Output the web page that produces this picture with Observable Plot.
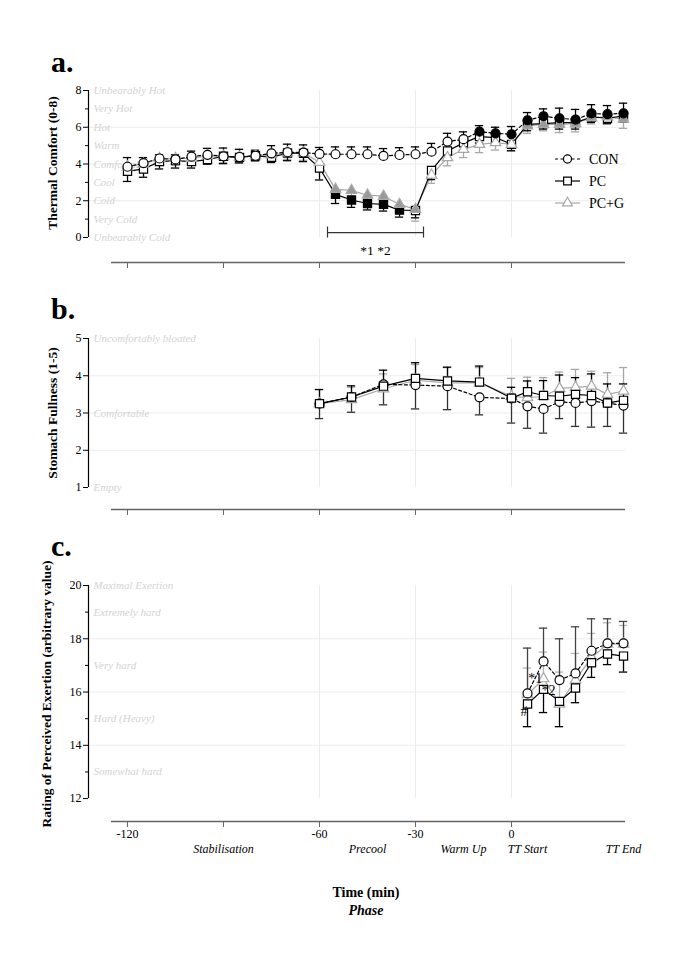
<!DOCTYPE html>
<html><head><meta charset="utf-8">
<script src="https://cdn.jsdelivr.net/npm/d3@7"></script>
<script src="https://cdn.jsdelivr.net/npm/@observablehq/plot@0.6"></script>
<style>
html,body{margin:0;padding:0;background:#fff}
#root{position:relative;width:685px;height:968px;overflow:hidden;font-family:"Liberation Serif","Times New Roman",serif}
#root > svg{position:absolute;left:0}
#root svg text{font-family:"Liberation Serif","Times New Roman",serif}
</style></head><body><div id="root"></div>
<script>
// ---------------- DATA ----------------
// x axis
const xTicks = [-120, -90, -60, -30, 0];
const xTickLabels = ["-120", "", "-60", "-30", "0"];
const phaseTimes = [-90, -45, -15, 5, 35];
const phaseNames = ["Stabilisation", "Precool", "Warm Up", "TT Start", "TT End"];

// Panel a: Thermal comfort (0-8)
const timesA = [-120,-115,-110,-105,-100,-95,-90,-85,-80,-75,-70,-65,-60,-55,-50,-45,-40,-35,-30,-25,-20,-15,-10,-5,0,5,10,15,20,25,30,35];
const conA  = [3.85,4.05,4.30,4.25,4.40,4.50,4.42,4.38,4.45,4.58,4.64,4.62,4.55,4.53,4.53,4.53,4.44,4.49,4.53,4.67,5.22,5.35,5.76,5.67,5.62,6.38,6.60,6.49,6.42,6.75,6.71,6.76];
const pcA   = [3.60,3.73,4.13,4.18,4.13,4.24,4.42,4.36,4.45,4.36,4.60,4.58,3.78,2.35,2.04,1.85,1.80,1.49,1.47,3.65,4.71,5.15,5.49,5.44,5.07,6.16,6.20,6.25,6.25,6.56,6.49,6.62];
const pcgA  = [3.85,4.00,4.30,4.30,4.30,4.45,4.42,4.36,4.45,4.50,4.60,4.60,4.09,2.62,2.56,2.31,2.25,1.80,1.53,3.40,4.35,4.80,5.07,5.16,5.07,6.07,6.16,6.16,6.20,6.53,6.56,6.44];
const conSdA = [0.50,0.30,0.20,0.25,0.30,0.35,0.45,0.42,0.30,0.42,0.44,0.42,0.35,0.40,0.40,0.40,0.40,0.40,0.40,0.45,0.45,0.40,0.33,0.33,0.42,0.42,0.40,0.55,0.55,0.48,0.47,0.55];
const pcSdA  = [0.55,0.45,0.40,0.40,0.35,0.25,0.40,0.30,0.27,0.28,0.42,0.45,0.65,0.50,0.40,0.35,0.36,0.38,0.40,0.50,0.45,0.40,0.35,0.30,0.35,0.35,0.30,0.35,0.35,0.30,0.30,0.35];
const pcgSdA = [0.45,0.40,0.35,0.35,0.30,0.30,0.35,0.30,0.30,0.30,0.35,0.40,0.45,0.40,0.35,0.30,0.30,0.35,0.64,0.45,0.45,0.45,0.45,0.40,0.35,0.40,0.35,0.45,0.45,0.35,0.35,0.50];
const sigConA = [-10,-5,0,5,10,15,20,25,30,35];
const sigPcA  = [-55,-50,-45,-40,-35];
const sigPcgA = [-55,-50,-45,-40,-35,-30,5,10,15,20,25,30,35];
const catValsA = [8,7,6,5,4,3,2,1,0];
const catNamesA = ["Unbearably Hot","Very Hot","Hot","Warm","Comfortable","Cool","Cold","Very Cold","Unbearably Cold"];
const bracketA = {from: -57.5, to: -27.5, level: 0.27, label: "*1 *2", labelLevel: -0.72};

// Panel b: Stomach fullness (1-5)
const timesB = [-60,-50,-40,-30,-20,-10,0,5,10,15,20,25,30,35];
const conB  = [3.25,3.43,3.77,3.75,3.72,3.42,3.39,3.18,3.11,3.30,3.27,3.32,3.27,3.20];
const pcB   = [3.25,3.43,3.72,3.93,3.86,3.83,3.40,3.57,3.47,3.45,3.50,3.47,3.27,3.34];
const pcgB  = [3.25,3.36,3.65,3.88,3.81,3.81,3.45,3.41,3.45,3.66,3.69,3.72,3.50,3.59];
const conSdB = [0.40,0.41,0.55,0.64,0.63,0.47,0.66,0.59,0.65,0.45,0.63,0.70,0.63,0.74];
const pcSdB  = [0.38,0.30,0.43,0.42,0.37,0.43,0.29,0.29,0.40,0.57,0.45,0.58,0.51,0.44];
const pcgSdB = [0.38,0.33,0.40,0.42,0.41,0.41,0.48,0.55,0.50,0.44,0.48,0.40,0.58,0.63];
const catValsB = [5,3,1];
const catNamesB = ["Uncomfortably bloated","Comfortable","Empty"];

// Panel c: RPE
const timesC = [5,10,15,20,25,30,35];
const conC  = [15.95,17.15,16.45,16.70,17.55,17.83,17.83];
const pcC   = [15.55,16.10,15.65,16.15,17.10,17.43,17.35];
const pcgC  = [15.90,16.50,15.55,16.45,17.30,17.80,17.80];
const conSdC = [1.70,1.25,1.55,1.75,1.20,0.92,0.82];
const pcSdC  = [0.85,0.87,0.95,0.55,0.55,0.40,0.60];
const pcgSdC = [1.00,1.00,1.20,1.00,0.90,0.80,0.70];
const catValsC = [20,19,17,15,13];
const catNamesC = ["Maximal Exertion","Extremely hard","Very hard","Hard (Heavy)","Somewhat hard"];
const annotC = [{t: 5.2, v: 16.5, label: "*1"}, {t: 9.4, v: 16.07, label: "*2"}, {t: 2.8, v: 15.27, label: "#"}];

// ---------------- CHART ----------------
const FONT = '"Liberation Serif", "Times New Roman", serif';
const X0 = -132.19, X1 = 35.62, AX0 = -125;
const GRIDC = "#ececec", CATC = "#d3d3d3", GRAY = "#a8a8a8";
const root = document.getElementById("root");

function rows(t, v, sd, sig) {
  return t.map((tt, i) => ({t: tt, v: v[i], sd: sd[i], sig: sig.includes(tt)}));
}

function seriesMarks(s) {
  return {
    line: Plot.line(s.data, {x: "t", y: "v", stroke: s.color, strokeWidth: 1.2, strokeDasharray: s.dash}),
    bars: [
      Plot.ruleX(s.data, {x: "t", y1: "v", y2: d => d.v + s.dir * d.sd, stroke: s.barColor || s.color, strokeWidth: 1.3}),
      Plot.ruleY(s.data, {y: d => d.v + s.dir * d.sd, x1: d => d.t - 1.3, x2: d => d.t + 1.3, stroke: s.barColor || s.color, strokeWidth: 1.3})
    ],
    dots: Plot.dot(s.data, {x: "t", y: "v", symbol: s.symbol, r: s.r, stroke: s.color, strokeWidth: 1.2,
      fill: d => d.sig ? s.sigFill : "white"})
  };
}

function panel(cfg) {
  const {top, height, marginTop, marginBottom, yMin, yLo, yHi, majors, minors, grid, catVals, catNames, series, dotOrder} = cfg;
  const sm = series.map(seriesMarks);
  const marks = [
    Plot.ruleY(grid, {y: d => d, x1: X0, x2: X1, stroke: GRIDC}),
    Plot.ruleX([-60, -30, 0], {x: d => d, y1: yLo, y2: yHi, stroke: GRIDC}),
    Plot.text(catVals, {x: X0, y: d => d, dx: 5, text: (d, i) => catNames[i], textAnchor: "start",
      fill: CATC, fontStyle: "italic", fontSize: 11, fontFamily: FONT}),
    Plot.ruleX([X0], {x: d => d, y1: yLo, y2: yHi, stroke: "black", strokeWidth: 1.2}),
    Plot.ruleY([yMin], {y: d => d, x1: AX0, x2: X1, stroke: "#666", strokeWidth: 1.3}),
    Plot.axisX(xTicks, {anchor: "bottom", tickSize: 6, tickFormat: () => "", stroke: "#666", label: null}),
    Plot.axisY(majors, {anchor: "left", tickSize: 5, tickPadding: 2, label: null, fontSize: 12, fontFamily: FONT}),
    Plot.axisY(minors, {anchor: "left", tickSize: 3, tickFormat: () => "", label: null}),
    ...sm.map(m => m.line),
    ...sm.flatMap(m => m.bars),
    ...dotOrder.map(i => sm[i].dots),
    ...(cfg.extra || [])
  ];
  const svg = Plot.plot({
    width: 685, height, marginLeft: 88, marginRight: 60, marginTop, marginBottom,
    x: {domain: [X0, X1]}, y: {domain: [yMin, yHi]},
    style: {fontFamily: FONT, fontSize: "12px", color: "black", background: "transparent", overflow: "visible"},
    marks
  });
  svg.style.top = top + "px";
  root.appendChild(svg);
}

// Panel a
panel({
  top: 80, height: 194, marginTop: 10, marginBottom: 12, yMin: -1.36, yLo: 0, yHi: 8,
  majors: [0,2,4,6,8], minors: [1,3,5,7], grid: [2,4,6], catVals: catValsA, catNames: catNamesA,
  series: [
    {data: rows(timesA, pcgA, pcgSdA, sigPcgA), color: GRAY, symbol: "triangle", r: 3.9, dir: -1, sigFill: "#9a9a9a"},
    {data: rows(timesA, pcA, pcSdA, sigPcA), color: "black", symbol: "square", r: 4.6, dir: -1, sigFill: "black"},
    {data: rows(timesA, conA, conSdA, sigConA), color: "black", symbol: "circle", r: 4.5, dir: 1, sigFill: "black", dash: "3,2.5"}
  ],
  dotOrder: [1, 0, 2],
  extra: [
    Plot.ruleY([bracketA], {y: "level", x1: "from", x2: "to", stroke: "#333", strokeWidth: 1.2}),
    Plot.ruleX([bracketA.from, bracketA.to], {x: d => d, y1: bracketA.level - 0.3, y2: bracketA.level + 0.3, stroke: "#333", strokeWidth: 1.2}),
    Plot.text([bracketA], {x: d => (d.from + d.to) / 2, y: "labelLevel", text: "label", fontSize: 13.5, fontFamily: FONT})
  ]
});

// Panel b
panel({
  top: 325, height: 196, marginTop: 13, marginBottom: 12, yMin: 0.41, yLo: 1, yHi: 5,
  majors: [1,2,3,4,5], minors: [], grid: [2,3,4], catVals: catValsB, catNames: catNamesB,
  series: [
    {data: rows(timesB, pcgB, pcgSdB, []), color: GRAY, symbol: "triangle", r: 3.9, dir: 1, sigFill: GRAY},
    {data: rows(timesB, conB, conSdB, []), color: "black", symbol: "circle", r: 4.5, dir: -1, sigFill: "black", dash: "3,2.5", barColor: "#333"},
    {data: rows(timesB, pcB, pcSdB, []), color: "black", symbol: "square", r: 4.6, dir: 1, sigFill: "black"}
  ],
  dotOrder: [0, 1, 2]
});

// Panel c
panel({
  top: 570, height: 301, marginTop: 15, marginBottom: 50, yMin: 11.14, yLo: 12, yHi: 20,
  majors: [12,14,16,18,20], minors: [13,15,17,19], grid: [14,16,18], catVals: catValsC, catNames: catNamesC,
  series: [
    {data: rows(timesC, pcgC, pcgSdC, []), color: GRAY, symbol: "triangle", r: 3.9, dir: 1, sigFill: GRAY, barColor: "#b5b5b5"},
    {data: rows(timesC, pcC, pcSdC, []), color: "black", symbol: "square", r: 4.6, dir: -1, sigFill: "black"},
    {data: rows(timesC, conC, conSdC, []), color: "black", symbol: "circle", r: 4.5, dir: 1, sigFill: "black", dash: "3,2.5", barColor: "#444"}
  ],
  dotOrder: [0, 1, 2],
  extra: [
    Plot.text(annotC, {x: "t", y: "v", text: "label", textAnchor: "start", fontSize: 14, fontFamily: FONT}),
    Plot.text(xTicks, {x: d => d, frameAnchor: "bottom", dy: 16, text: (d, i) => xTickLabels[i], fontSize: 12, fontFamily: FONT}),
    Plot.text(phaseTimes, {x: d => d, frameAnchor: "bottom", dy: 31, text: (d, i) => phaseNames[i], fontSize: 12, fontStyle: "italic", fontFamily: FONT})
  ]
});

// ---------------- OVERLAY TEXT / LEGEND ----------------
const ov = d3.select(root).append("svg").attr("width", 685).attr("height", 968)
  .style("top", "0px").style("pointer-events", "none").style("font-family", FONT);

[["a.", 72], ["b.", 319], ["c.", 556]].forEach(([t, y]) =>
  ov.append("text").attr("x", 51).attr("y", y).attr("font-size", 30).attr("font-weight", "bold").text(t));

[["Thermal Comfort (0-8)", 52, 163], ["Stomach Fullness (1-5)", 52, 413], ["Rating of Perceived Exertion (arbitrary value)", 46, 694]]
  .forEach(([t, x, y]) => ov.append("text").attr("transform", `translate(${x},${y}) rotate(-90)`)
    .attr("text-anchor", "middle").attr("dy", "0.35em").attr("font-size", 13.5).attr("font-weight", "bold").text(t));

ov.append("text").attr("x", 366).attr("y", 897).attr("text-anchor", "middle").attr("font-size", 14)
  .attr("font-weight", "bold").text("Time (min)");
ov.append("text").attr("x", 366).attr("y", 915).attr("text-anchor", "middle").attr("font-size", 14)
  .attr("font-weight", "bold").attr("font-style", "italic").text("Phase");

// legend
const legendItems = [
  {name: "CON", color: "black", dash: "3,2.5", sym: d3.symbolCircle, size: 52},
  {name: "PC", color: "black", dash: null, sym: d3.symbolSquare, size: 60},
  {name: "PC+G", color: GRAY, dash: null, sym: d3.symbolTriangle, size: 42}
];
legendItems.forEach((it, i) => {
  const y = 159 + i * 22;
  const g = ov.append("g");
  g.append("line").attr("x1", 555).attr("x2", 580).attr("y1", y).attr("y2", y)
    .attr("stroke", it.color).attr("stroke-width", 1.2).attr("stroke-dasharray", it.dash);
  g.append("path").attr("d", d3.symbol(it.sym, it.size)()).attr("transform", `translate(567.5,${y})`)
    .attr("fill", "white").attr("stroke", it.color).attr("stroke-width", 1.2);
  g.append("text").attr("x", 589).attr("y", y).attr("dy", "0.35em").attr("font-size", 14).text(it.name);
});
</script></body></html>
